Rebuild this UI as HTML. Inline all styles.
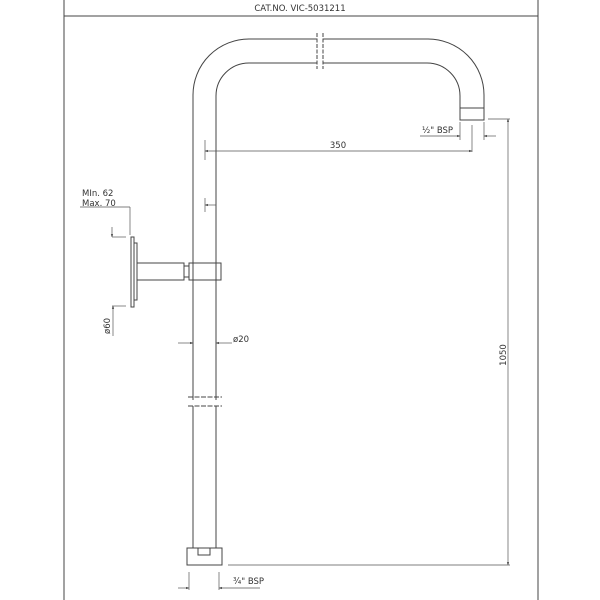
<!DOCTYPE html>
<html><head><style>
html,body{margin:0;padding:0;background:#fff}
svg{display:block}
text{font-family:"DejaVu Sans","Liberation Sans",sans-serif;fill:#333}
</style></head><body>
<svg width="600" height="600" viewBox="0 0 600 600" xmlns="http://www.w3.org/2000/svg">
<defs>
<marker id="a" viewBox="0 0 10 10" refX="10" refY="5" markerWidth="6" markerHeight="4" orient="auto-start-reverse"><path d="M0,1 L10,5 L0,9z" fill="#333"/></marker>
</defs>
<g fill="none" stroke="#444" stroke-width="1">
<!-- frame -->
<line x1="64" y1="0" x2="64" y2="600"/>
<line x1="538" y1="0" x2="538" y2="600"/>
<line x1="64" y1="16" x2="538" y2="16"/>
<!-- pipe outer -->
<path d="M193,400 V95 A56,56 0 0 1 249,39 H317 M323,39 H428 A56,56 0 0 1 484,95 V108"/>
<!-- pipe inner -->
<path d="M216,400 V96 A33,33 0 0 1 249,63 H317 M323,63 H427 A33,33 0 0 1 460,96 V108"/>
<!-- break -->
<path d="M317,33 V69 M323,33 V69" stroke-dasharray="4,1.5"/>
<!-- nozzle -->
<rect x="460" y="108" width="24" height="12"/>
<!-- lower pipe -->
<path d="M188,397 H222 M188,406 H222" stroke-dasharray="5,1.5"/>
<path d="M193,406 V548 M216,406 V548"/>
<rect x="187" y="548" width="35" height="17"/>
<rect x="198" y="548" width="12" height="7"/>
<!-- bracket -->
<rect x="131" y="237" width="3" height="70"/>
<rect x="134" y="243" width="3" height="57"/>
<rect x="137" y="263" width="47" height="17"/>
<rect x="184" y="266" width="5" height="11"/>
<rect x="189" y="263" width="32" height="17"/>
</g>
<g fill="none" stroke="#555" stroke-width="0.7">
<!-- 350 -->
<line x1="205" y1="140" x2="205" y2="160"/>
<line x1="472" y1="125" x2="472" y2="152"/>
<line x1="205" y1="151" x2="472" y2="151" marker-start="url(#a)" marker-end="url(#a)"/>
<!-- 1/2 BSP -->
<line x1="420" y1="136" x2="460" y2="136" marker-end="url(#a)"/>
<line x1="496" y1="136" x2="484" y2="136" marker-end="url(#a)"/>
<line x1="460" y1="122" x2="460" y2="140"/>
<line x1="484" y1="122" x2="484" y2="140"/>
<!-- 1050 -->
<line x1="488" y1="119" x2="510" y2="119"/>
<line x1="508" y1="119" x2="508" y2="565" marker-start="url(#a)" marker-end="url(#a)"/>
<line x1="228" y1="565" x2="510" y2="565"/>
<!-- min/max -->
<line x1="80" y1="207" x2="130" y2="207"/>
<line x1="130" y1="207" x2="130" y2="235"/>
<line x1="216" y1="205" x2="205" y2="205" marker-end="url(#a)"/>
<line x1="205" y1="198" x2="205" y2="212"/>
<line x1="112" y1="227" x2="112" y2="237" marker-end="url(#a)"/>
<line x1="112" y1="237" x2="126" y2="237"/>
<!-- ø60 -->
<line x1="112" y1="306" x2="126" y2="306"/>
<line x1="113" y1="306" x2="113" y2="336" marker-start="url(#a)"/>
<!-- ø20 -->
<line x1="178" y1="343" x2="193" y2="343" marker-end="url(#a)"/>
<line x1="232" y1="343" x2="216" y2="343" marker-end="url(#a)"/>
<!-- 3/4 BSP -->
<line x1="189" y1="572" x2="189" y2="590"/>
<line x1="219" y1="572" x2="219" y2="590"/>
<line x1="178" y1="588" x2="189" y2="588" marker-end="url(#a)"/>
<line x1="260" y1="588" x2="219" y2="588" marker-end="url(#a)"/>
</g>
<g font-size="8.5">
<text x="300" y="11" text-anchor="middle">CAT.NO. VIC-5031211</text>
<text x="338" y="148" text-anchor="middle">350</text>
<text x="422" y="133">½" BSP</text>
<text x="82" y="196">MIn. 62</text>
<text x="82" y="206">Max. 70</text>
<text x="233" y="342">ø20</text>
<text x="233" y="584">¾" BSP</text>
<text transform="translate(110,334) rotate(-90)">ø60</text>
<text transform="translate(506,355) rotate(-90)" text-anchor="middle">1050</text>
</g>
</svg>
</body></html>
